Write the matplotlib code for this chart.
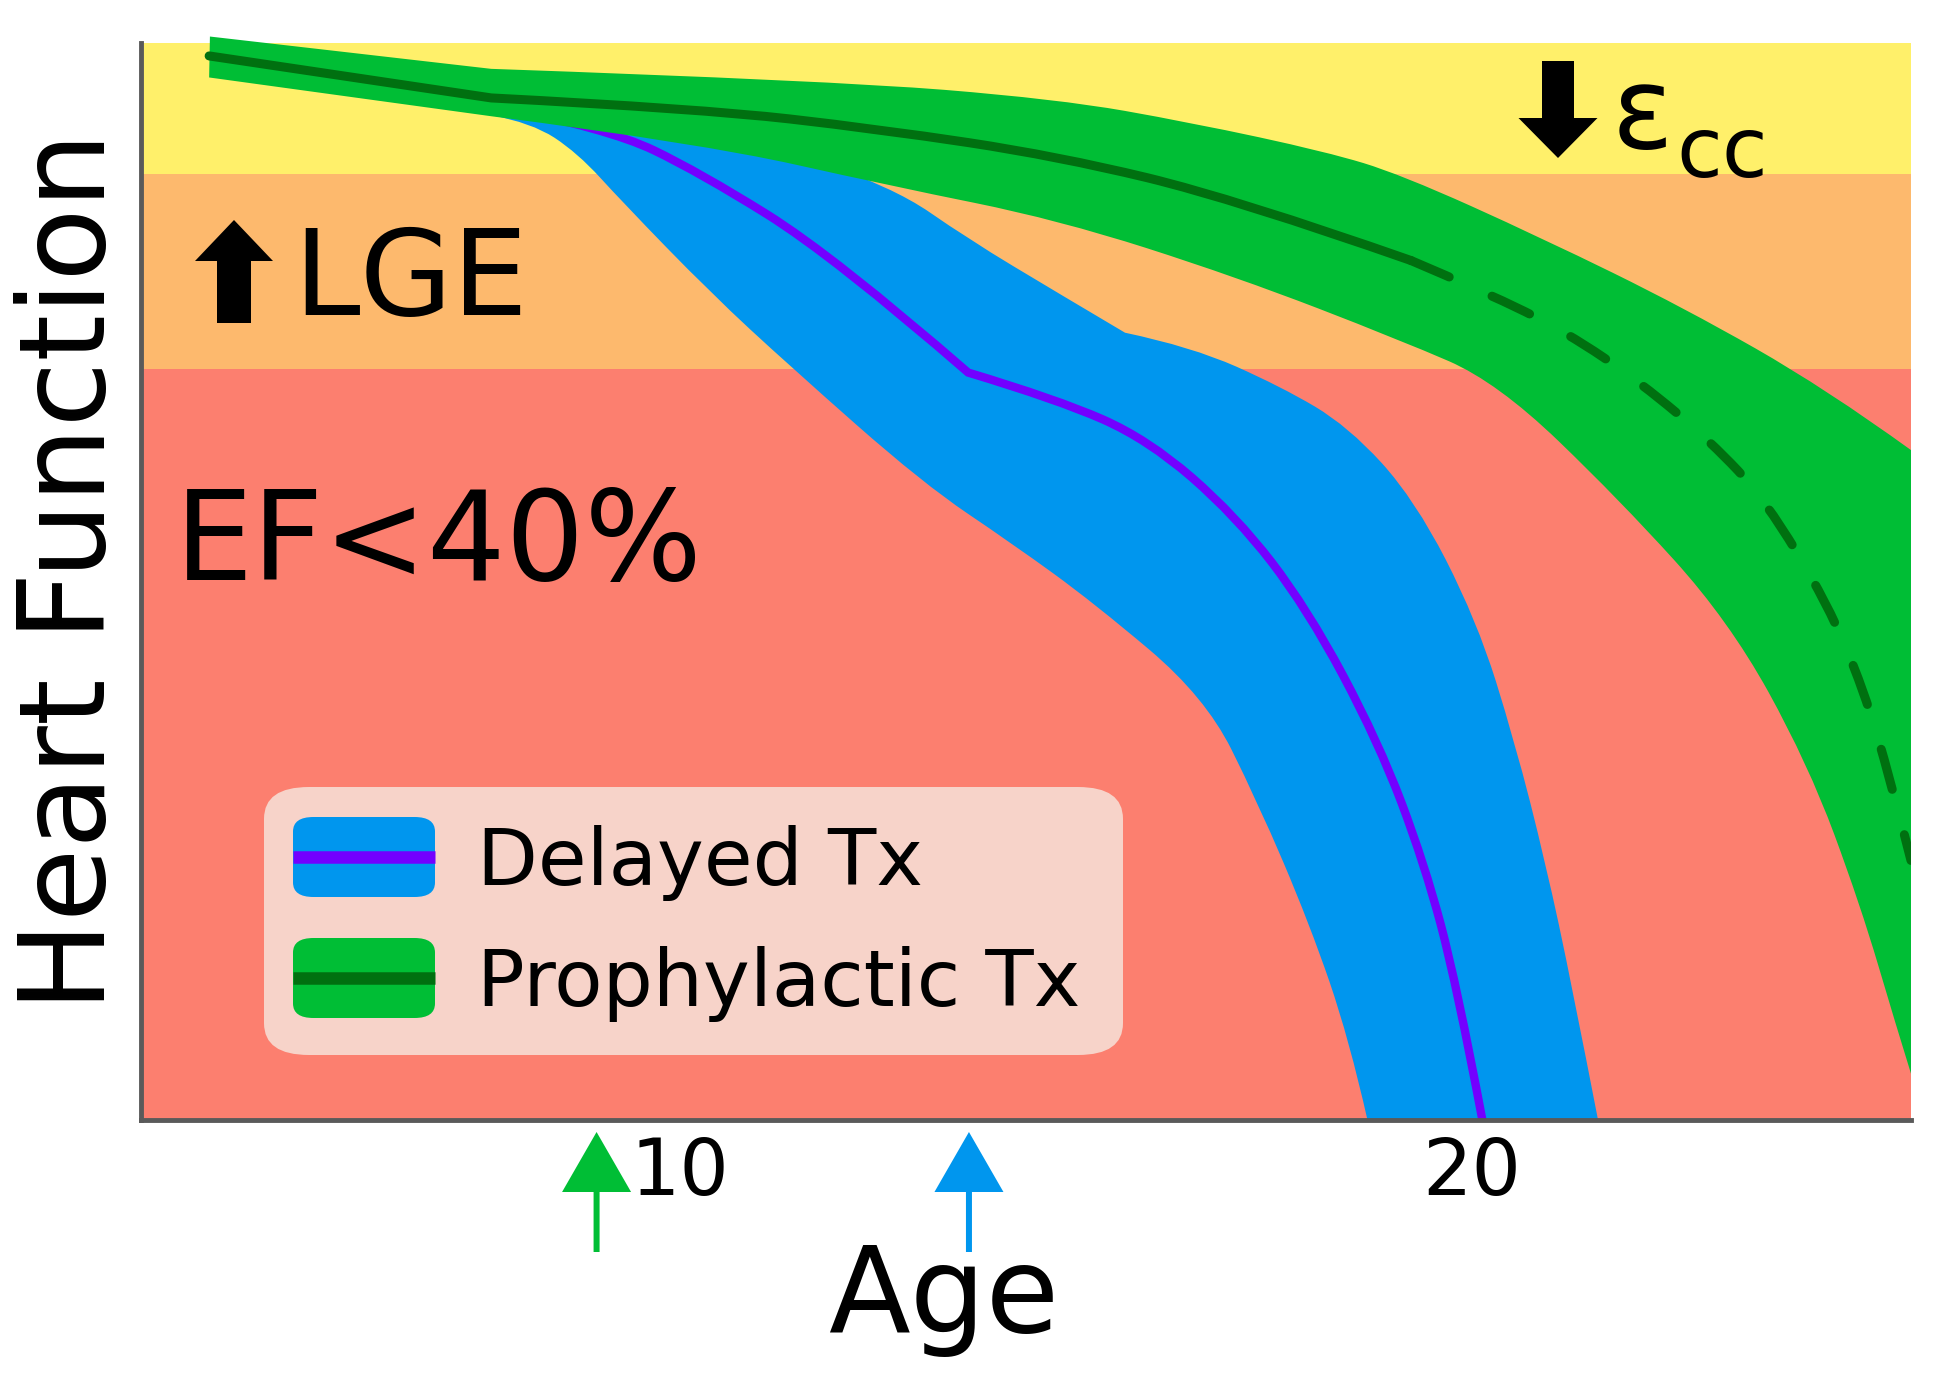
import matplotlib.pyplot as plt
import numpy as np
from matplotlib.patches import FancyBboxPatch, PathPatch
from matplotlib.path import Path

plt.rcParams['font.family'] = 'DejaVu Sans'

# zones of heart function (y in % of plotted range)
ef_limit = 69.7     # below: EF<40%
lge_limit = 87.8    # below: LGE appears

# prophylactic treatment (green)
green_mid_age = [4.06, 7.62, 10.25, 12.52, 14.77, 17.02, 19.23]
green_mid_val = [98.8, 94.9, 93.9, 92.0, 89.5, 85.5, 79.8]
green_proj_age = [19.23, 20.16, 21.18, 22.14, 23.01, 23.70, 24.49, 24.94, 25.28, 25.54]
green_proj_val = [79.8, 76.9, 73.2, 68.4, 63.0, 57.6, 47.9, 40.0, 31.6, 24.1]
green_hi_age = [4.07, 7.62, 11.91, 14.77, 16.46, 18.16, 19.10, 20.88, 22.68, 24.47, 25.54]
green_hi_val = [100.6, 97.6, 96.5, 94.8, 92.6, 89.9, 87.8, 81.9, 75.4, 67.9, 62.2]
green_lo_age = [4.06, 7.62, 10.25, 12.68, 14.77, 17.02, 19.10, 20.32, 21.86, 23.24, 24.24,
                24.90, 25.35, 25.54]
green_lo_val = [96.8, 93.2, 90.7, 86.7, 83.6, 78.3, 72.4, 68.5, 57.6, 46.4, 33.1,
                20.0, 8.8, 4.3]

# delayed treatment (blue)
purple_age = [7.62, 9.09, 10.25, 11.95, 13.64, 14.77, 15.91, 17.02, 17.92, 18.82, 19.40, 19.81, 20.13]
purple_val = [94.2, 92.1, 88.0, 80.2, 69.4, 66.9, 63.2, 56.1, 47.5, 35.1, 23.8, 12.5, 0.0]
blue_hi_age = [7.62, 9.29, 10.87, 12.68, 13.64, 14.77, 15.62, 16.46, 17.59, 18.44, 19.28,
               20.06, 20.54, 20.93, 21.26, 21.59]
blue_hi_val = [93.5, 92.2, 91.1, 86.7, 81.8, 76.8, 73.1, 71.8, 68.1, 64.4, 57.6,
               46.4, 35.1, 23.8, 12.5, 0.0]
blue_lo_age = [7.62, 8.13, 8.71, 9.28, 10.39, 11.39, 13.07, 14.20, 15.23, 16.63, 17.29,
               17.95, 18.45, 18.68]
blue_lo_val = [93.3, 92.6, 89.8, 85.2, 76.8, 70.0, 59.1, 53.5, 48.0, 39.3, 29.6,
               18.2, 7.5, 0.0]

# treatment start ages
start_green = 8.95
start_blue = 13.65

age_ticks = [10, 20]
tick_labels = ['10', '20']

# colours
c_yellow = '#FFF06A'
c_orange = '#FDB96D'
c_red = '#FC7F6F'
c_blue = '#0096EE'
c_purple = '#7300FF'
c_green = '#00BE35'
c_dkgreen = '#007010'


def mid(p, q):
    return ((p[0] + q[0]) / 2, (p[1] + q[1]) / 2)


def smooth(xs, ys, kinks=()):
    # quadratic b-spline over the read points (ends and kinks kept sharp)
    pts = list(zip(xs, ys))
    cuts = [0] + sorted(kinks) + [len(pts) - 1]
    verts = [pts[0]]
    for a, b in zip(cuts[:-1], cuts[1:]):
        seg = pts[a:b + 1]
        if len(seg) == 2:
            verts += [mid(seg[0], seg[1]), seg[1]]
            continue
        for i in range(1, len(seg) - 2):
            verts += [seg[i], mid(seg[i], seg[i + 1])]
        verts += [seg[-2], seg[-1]]
    return verts


def line_path(verts):
    return Path(verts, [Path.MOVETO] + [Path.CURVE3] * (len(verts) - 1))


def band_path(up, lo):
    lo = lo[::-1]
    verts = up + lo + [up[0]]
    codes = ([Path.MOVETO] + [Path.CURVE3] * (len(up) - 1) + [Path.LINETO]
             + [Path.CURVE3] * (len(lo) - 1) + [Path.CLOSEPOLY])
    return Path(verts, codes)


W, H = 1955, 1380
fig = plt.figure(figsize=(W / 100, H / 100), dpi=100)
ax = fig.add_axes([141 / W, 1 - 1120 / H, 1770 / W, 1077 / H])
ax.set_xlim(3.2, 25.54)
ax.set_ylim(0, 100)

ax.axhspan(0, ef_limit, color=c_red, lw=0, zorder=0)
ax.axhspan(ef_limit, lge_limit, color=c_orange, lw=0, zorder=0)
ax.axhspan(lge_limit, 100, color=c_yellow, lw=0, zorder=0)

# blue band + purple line
ax.add_patch(PathPatch(band_path(smooth(blue_hi_age, blue_hi_val, kinks=(6,)),
                                 smooth(blue_lo_age, blue_lo_val)),
                       fc=c_blue, ec='none', zorder=1))
ax.add_patch(PathPatch(line_path(smooth(purple_age, purple_val, kinks=(4,))),
                       fill=False, ec=c_purple, lw=6, capstyle='butt', zorder=2))

# green band + dark line (solid, then dashed projection)
ax.add_patch(PathPatch(band_path(smooth(green_hi_age, green_hi_val, kinks=(1,)),
                                 smooth(green_lo_age, green_lo_val, kinks=(1,))),
                       fc=c_green, ec='none', zorder=3, clip_on=False))
ax.add_patch(PathPatch(line_path(smooth(green_mid_age, green_mid_val, kinks=(1,))), fill=False,
                       ec=c_dkgreen, lw=6.5, capstyle='round', zorder=4, clip_on=False))
ax.add_patch(PathPatch(line_path(smooth(green_proj_age, green_proj_val)), fill=False,
                       ec=c_dkgreen, lw=6.5, linestyle=(0, (4.6, 5.2)), capstyle='round', zorder=4))

# axes look
for s in ['top', 'right']:
    ax.spines[s].set_visible(False)
for s in ['left', 'bottom']:
    ax.spines[s].set_color('#5a5a5a')
    ax.spines[s].set_linewidth(3.5)
    ax.spines[s].set_zorder(6)
ax.set_yticks([])
ax.set_xticks(age_ticks)
ax.set_xticklabels(tick_labels, fontsize=56)
ax.tick_params(axis='x', length=0, pad=11)

ax.set_ylabel('Heart Function', fontsize=86, va='center')
ax.yaxis.set_label_coords(-0.039, 0.509)
ax.set_xlabel('Age', fontsize=86, va='baseline')
ax.xaxis.set_label_coords(0.4537, -0.197)

# zone labels
ax.text(0.019, 0.5014, 'EF<40%', fontsize=89, va='baseline', ha='left', transform=ax.transAxes, zorder=7)
ax.text(0.086, 0.7474, 'LGE', fontsize=86, va='baseline', ha='left', transform=ax.transAxes, zorder=7)
fig.text(1612 / W, 1 - 148 / H, 'ε', fontsize=82, va='baseline', ha='left')
fig.text(1676 / W, 1 - 177 / H, 'cc', fontsize=60, va='baseline', ha='left')


def arrow(x0, y0, x1, y1, hl, hw, tw, color, coords='figure pixels'):
    ax.annotate('', xy=(x1, y1), xytext=(x0, y0), xycoords=coords, textcoords=coords,
                annotation_clip=False,
                arrowprops=dict(arrowstyle='simple,head_length=%g,head_width=%g,tail_width=%g' % (hl, hw, tw),
                                mutation_scale=0.72, shrinkA=0, shrinkB=0, color=color, lw=0))


arrow(234, H - 323, 234, H - 220, 41, 78, 34, 'black')
arrow(1558, H - 61, 1558, H - 158, 40, 79, 32, 'black')
arrow(start_green, H - 1252, start_green, H - 1132, 60, 69, 6, c_green, coords=('data', 'figure pixels'))
arrow(start_blue, H - 1252, start_blue, H - 1132, 60, 69, 6, c_blue, coords=('data', 'figure pixels'))


# legend drawn by hand
def fx(x):
    return x / W


def fy(y):
    return 1 - y / H


fig.patches.append(FancyBboxPatch((fx(264), fy(1055)), fx(859), 268 / H,
                                  boxstyle='round,pad=0,rounding_size=0.023',
                                  transform=fig.transFigure, fc='#F7D3C9', ec='none', zorder=8))
for top, face, line, label in [(817, c_blue, c_purple, 'Delayed Tx'),
                               (938, c_green, c_dkgreen, 'Prophylactic Tx')]:
    fig.patches.append(FancyBboxPatch((fx(293), fy(top + 80)), fx(142), 80 / H,
                                      boxstyle='round,pad=0,rounding_size=0.0105',
                                      transform=fig.transFigure, fc=face, ec='none', zorder=9))
    fig.lines.append(plt.Line2D([fx(293), fx(435)], [fy(top + 40)] * 2, transform=fig.transFigure,
                                color=line, lw=9, solid_capstyle='butt', zorder=10))
    fig.text(fx(477), fy(top + 68), label, fontsize=57, va='baseline', ha='left', zorder=11)

fig.savefig('out.png', dpi=100)
